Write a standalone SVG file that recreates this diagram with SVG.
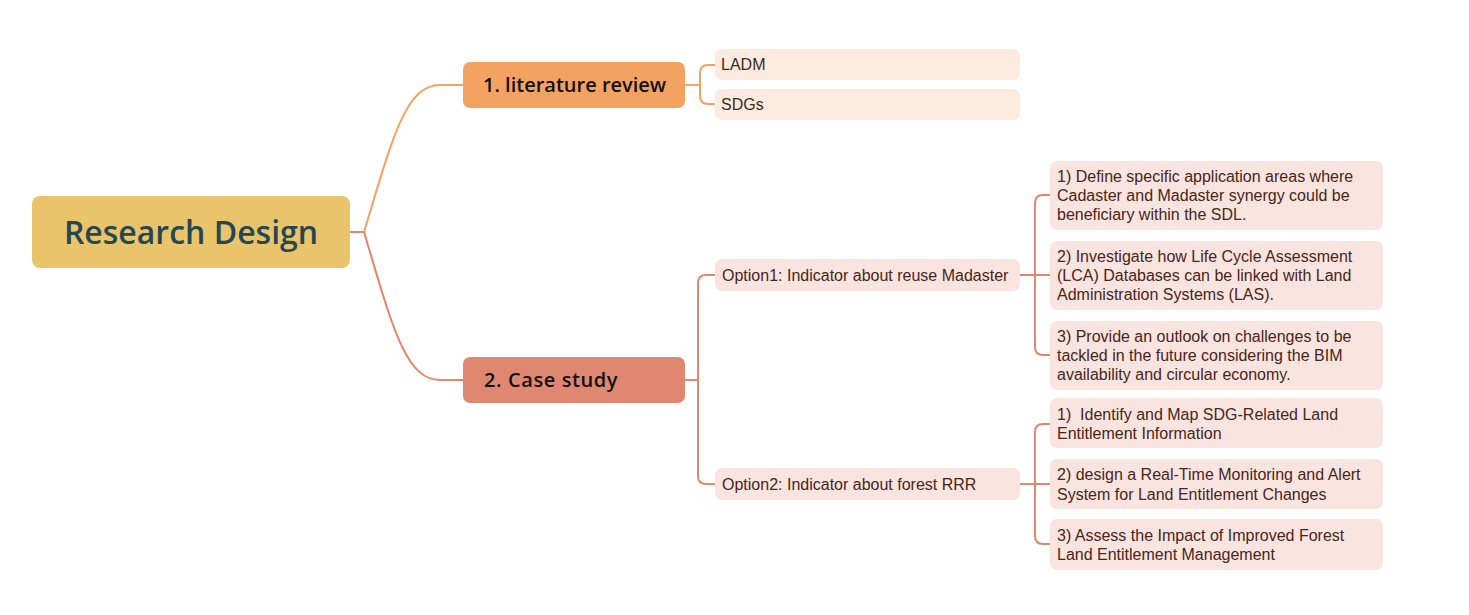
<svg xmlns="http://www.w3.org/2000/svg" width="1469" height="615" viewBox="0 0 1469 615">
<style>
.bg{fill:#ffffff}
.lit{stroke:#F4A261;stroke-width:2;fill:none}
.cs{stroke:#DF8770;stroke-width:2;fill:none}
.t{font-family:"Liberation Sans",Arial,sans-serif;font-size:16px}
.h{font-family:"Open Sans","Liberation Sans",sans-serif;font-weight:600}
.leafA{fill:#FDEBE0}
.leafB{fill:#F9E4E0}
.ta{fill:#3a2a20}
.tb{fill:#4a2519}
</style>
<rect class="bg" x="0" y="0" width="1469" height="615"/>
<g id="connectors">
<path class="cs" d="M350 232 H364"/>
<path class="lit" d="M364 232 C392 140 405 85 440 85 H463"/>
<path class="cs" d="M364 232 C392 325 405 380 440 380 H463"/>
<path class="lit" d="M685 85 H700 M715 65 H708 Q700 65 700 73 V96 Q700 104 708 104 H715"/>
<path class="cs" d="M685 380 H698 M715 275 H706 Q698 275 698 283 V476 Q698 484 706 484 H715"/>
<path class="cs" d="M1020 275 H1035 M1050 195 H1043 Q1035 195 1035 203 V347 Q1035 355 1043 355 H1050 M1035 275 H1050"/>
<path class="cs" d="M1020 484 H1035 M1050 424 H1043 Q1035 424 1035 432 V536 Q1035 544 1043 544 H1050 M1035 484 H1050"/>
</g>
<g id="root">
<rect x="32" y="196" width="318" height="72" rx="8" fill="#E9C46A"/>
<text class="h" x="191" y="244" text-anchor="middle" font-size="32" fill="#264653">Research Design</text>
</g>
<g id="n1">
<rect x="463" y="62" width="222" height="46" rx="7" fill="#F4A261"/>
<text class="h" x="483" y="92" font-size="20" fill="#111">1. literature review</text>
</g>
<g id="n2">
<rect x="463" y="357" width="222" height="46" rx="7" fill="#DF8770"/>
<text class="h" x="484" y="387" font-size="20" fill="#111" letter-spacing="0.6">2. Case study</text>
</g>
<g id="ladm">
<rect class="leafA" x="715" y="49" width="305" height="31" rx="7"/>
<text class="t ta" x="721" y="70">LADM</text>
</g>
<g id="sdgs">
<rect class="leafA" x="715" y="89" width="305" height="31" rx="7"/>
<text class="t ta" x="721" y="110">SDGs</text>
</g>
<g id="opt1">
<rect class="leafB" x="715" y="259" width="305" height="32" rx="7"/>
<text class="t tb" x="722" y="281">Option1: Indicator about reuse Madaster</text>
</g>
<g id="opt2">
<rect class="leafB" x="715" y="468" width="305" height="32" rx="7"/>
<text class="t tb" x="722" y="490">Option2: Indicator about forest RRR</text>
</g>
<g id="o1a">
<rect class="leafB" x="1050" y="161" width="333" height="69" rx="7"/>
<text class="t tb" x="1057" y="182">1) Define specific application areas where<tspan x="1057" y="201">Cadaster and Madaster synergy could be</tspan><tspan x="1057" y="220">beneficiary within the SDL.</tspan></text>
</g>
<g id="o1b">
<rect class="leafB" x="1050" y="241" width="333" height="69" rx="7"/>
<text class="t tb" x="1057" y="262">2) Investigate how Life Cycle Assessment<tspan x="1057" y="281">(LCA) Databases can be linked with Land</tspan><tspan x="1057" y="300">Administration Systems (LAS).</tspan></text>
</g>
<g id="o1c">
<rect class="leafB" x="1050" y="321" width="333" height="69" rx="7"/>
<text class="t tb" x="1057" y="342">3) Provide an outlook on challenges to be<tspan x="1057" y="361">tackled in the future considering the BIM</tspan><tspan x="1057" y="380">availability and circular economy.</tspan></text>
</g>
<g id="o2a">
<rect class="leafB" x="1050" y="398" width="333" height="50" rx="7"/>
<text class="t tb" x="1057" y="420" style="white-space:pre">1)  Identify and Map SDG-Related Land<tspan x="1057" y="439">Entitlement Information</tspan></text>
</g>
<g id="o2b">
<rect class="leafB" x="1050" y="459" width="333" height="50" rx="7"/>
<text class="t tb" x="1057" y="480">2) design a Real-Time Monitoring and Alert<tspan x="1057" y="500">System for Land Entitlement Changes</tspan></text>
</g>
<g id="o2c">
<rect class="leafB" x="1050" y="519" width="333" height="51" rx="7"/>
<text class="t tb" x="1057" y="541">3) Assess the Impact of Improved Forest<tspan x="1057" y="560">Land Entitlement Management</tspan></text>
</g>
</svg>
